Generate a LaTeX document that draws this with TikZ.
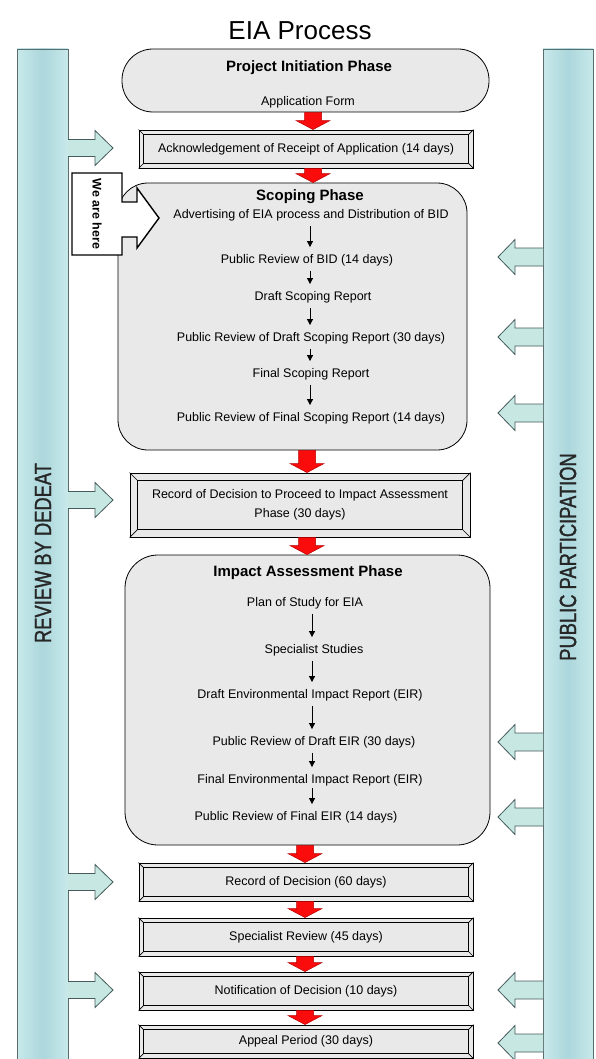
\documentclass[tikz,border=0pt]{standalone}
\usepackage{fontspec}
\setmainfont{Liberation Sans}
\newfontfamily\barfont{Liberation Sans}[FakeStretch=0.78, FakeBold=1.2]
\usetikzlibrary{calc,arrows.meta}
\definecolor{boxgray}{RGB}{233,233,233}
\definecolor{barA}{RGB}{172,215,220}
\definecolor{barB}{RGB}{200,233,234}
\definecolor{baredge}{RGB}{90,110,112}
\definecolor{cyanfill}{RGB}{198,231,226}
\definecolor{cyanedge}{RGB}{70,92,92}
\definecolor{redfill}{RGB}{250,12,12}
\definecolor{rededge}{RGB}{185,0,0}
\tikzset{
  txt/.style={font=\fontsize{12.5}{15}\selectfont, text height=9pt, text depth=2.5pt, inner sep=0pt},
  ttl/.style={font=\bfseries\fontsize{15}{18}\selectfont, inner sep=0pt},
  phase/.style={draw=black, line width=0.8pt, fill=boxgray},
  bevbox/.style={draw=black, line width=0.9pt, fill=boxgray, inner sep=0pt,
     font=\fontsize{12.5}{19}\selectfont, align=center},
  bevl/.style={draw=black, line width=0.7pt},
  barstyle/.style={draw=baredge, line width=0.8pt, left color=barB, right color=barB, middle color=barA},
  bartxt/.style={font=\barfont\fontsize{23.5}{26}\selectfont, text=black!85, inner sep=0pt},
  cyanarr/.style={fill=cyanfill, draw=cyanedge, line width=0.8pt, line join=miter},
  redarrow/.style={fill=redfill, draw=rededge, line width=0.5pt, line join=miter},
  blk/.style={draw=black, line width=1pt, -{Triangle[length=6pt,width=6pt]}, shorten <=5pt, shorten >=7pt},
  callout/.style={fill=white, draw=black, line width=1.4pt, line join=miter},
}
\newcommand\bevel[2]{%
  \draw[bevl] ($(#1.north west)+(#2pt,-#2pt)$) rectangle ($(#1.south east)+(-#2pt,#2pt)$);
  \draw[bevl] (#1.north west) -- ++(#2pt,-#2pt);
  \draw[bevl] (#1.north east) -- ++(-#2pt,-#2pt);
  \draw[bevl] (#1.south west) -- ++(#2pt,#2pt);
  \draw[bevl] (#1.south east) -- ++(-#2pt,#2pt);}
\newcommand\redarr[3]{%
  \path[redarrow] let \p1=(#1.south), \p2=(#2.north) in
    (#3pt-8.5pt,\y1) -- (#3pt+8.5pt,\y1) -- (#3pt+8.5pt,\y2+9pt) -- (#3pt+17pt,\y2+9pt)
    -- (#3pt,\y2) -- (#3pt-17pt,\y2+9pt) -- (#3pt-8.5pt,\y2+9pt) -- cycle;}
\newcommand\cyanR[1]{%
  \path[cyanarr] (68,-#1+8.5) -- (95,-#1+8.5) -- (95,-#1+17.5) -- (113,-#1)
    -- (95,-#1-17.5) -- (95,-#1-8.5) -- (68,-#1-8.5);}
\newcommand\cyanL[1]{%
  \path[cyanarr] (543,-#1+9) -- (515,-#1+9) -- (515,-#1+17.5) -- (498,-#1)
    -- (515,-#1-17.5) -- (515,-#1-9) -- (543,-#1-9);}
\begin{document}
\begin{tikzpicture}[x=1pt,y=1pt]
\useasboundingbox (0,0) rectangle (596,-1059);
\clip (0,0) rectangle (596,-1059);
\fill[white] (0,0) rectangle (596,-1059);

% title
\node[font=\fontsize{26}{30}\selectfont, inner sep=0pt] (title) at (300,-31) {EIA Process};

% side bars
\path[barstyle] (17,-49) rectangle (68,-1070);
\path[barstyle] (543,-49) rectangle (593,-1070);
\node[bartxt, rotate=90] (lbarT) at (43,-553) {REVIEW BY DEDEAT};
\node[bartxt, rotate=90] (rbarT) at (568,-557) {PUBLIC PARTICIPATION};

% cyan arrows
\cyanR{148}\cyanR{500}\cyanR{882}\cyanR{990}
\cyanL{257}\cyanL{337}\cyanL{413}\cyanL{742}\cyanL{817}\cyanL{990}\cyanL{1043}

% project initiation
\node[phase, rounded corners=31pt, minimum width=367pt, minimum height=63pt] (pi) at (305.5,-80.5) {};
\node[ttl] (piT) at (309,-68) {Project Initiation Phase};
\node[txt] (piA) at (308,-102) {Application Form};

% acknowledgement
\node[bevbox, minimum width=334pt, minimum height=38pt] (ack) at (306,-149) {Acknowledgement of Receipt of Application (14 days)};
\bevel{ack}{5}

% scoping phase
\node[phase, rounded corners=30pt, minimum width=349pt, minimum height=267pt] (sc) at (292.5,-316.5) {};
\node[ttl] (scT) at (310,-197) {Scoping Phase};
\node[txt] (s1) at (311,-215) {Advertising of EIA process and Distribution of BID};
\node[txt] (s2) at (307,-260) {Public Review of BID (14 days)};
\node[txt] (s3) at (313,-297) {Draft Scoping Report};
\node[txt] (s4) at (311,-338) {Public Review of Draft Scoping Report (30 days)};
\node[txt] (s5) at (311,-374) {Final Scoping Report};
\node[txt] (s6) at (311,-418) {Public Review of Final Scoping Report (14 days)};
\coordinate (sx) at (310,0);
\draw[blk] (s1.south -| sx) -- (s2.north -| sx);
\draw[blk] (s2.south -| sx) -- (s3.north -| sx);
\draw[blk] (s3.south -| sx) -- (s4.north -| sx);
\draw[blk] (s4.south -| sx) -- (s5.north -| sx);
\draw[blk] (s5.south -| sx) -- (s6.north -| sx);

% record of decision to proceed
\node[bevbox, minimum width=340pt, minimum height=64pt] (rp) at (300,-505) {Record of Decision to Proceed to Impact Assessment\\Phase (30 days)};
\bevel{rp}{8}

% impact assessment phase
\node[phase, rounded corners=33pt, minimum width=365pt, minimum height=290pt] (ia) at (307.5,-700) {};
\node[ttl] (iaT) at (308,-573) {Impact Assessment Phase};
\node[txt] (i1) at (305,-603) {Plan of Study for EIA};
\node[txt] (i2) at (314,-650) {Specialist Studies};
\node[txt] (i3) at (310,-695) {Draft Environmental Impact Report (EIR)};
\node[txt] (i4) at (314,-742) {Public Review of Draft EIR (30 days)};
\node[txt] (i5) at (310,-780) {Final Environmental Impact Report (EIR)};
\node[txt] (i6) at (296,-817) {Public Review of Final EIR (14 days)};
\coordinate (ix) at (312,0);
\draw[blk] (i1.south -| ix) -- (i2.north -| ix);
\draw[blk] (i2.south -| ix) -- (i3.north -| ix);
\draw[blk] (i3.south -| ix) -- (i4.north -| ix);
\draw[blk] (i4.south -| ix) -- (i5.north -| ix);
\draw[blk, shorten <=2pt] (i5.south -| ix) -- (i6.north -| ix);

% final boxes
\node[bevbox, minimum width=334pt, minimum height=38pt] (rd) at (306,-882) {Record of Decision (60 days)};
\bevel{rd}{5}
\node[bevbox, minimum width=334pt, minimum height=38pt] (sr) at (306,-937) {Specialist Review (45 days)};
\bevel{sr}{5}
\node[bevbox, minimum width=334pt, minimum height=38pt] (nd) at (306,-991) {Notification of Decision (10 days)};
\bevel{nd}{5}
\node[bevbox, minimum width=334pt, minimum height=33pt] (ap) at (306,-1041.5) {Appeal Period (30 days)};
\bevel{ap}{5}

% red arrows
\redarr{pi}{ack}{313}
\redarr{ack}{sc}{313}
\redarr{sc}{rp}{307}
\redarr{rp}{ia}{307}
\redarr{ia}{rd}{305}
\redarr{rd}{sr}{305}
\redarr{sr}{nd}{305}
\redarr{nd}{ap}{305}

% we are here callout
\path[callout] (72,-173) -- (122,-173) -- (122,-202) -- (137,-202) -- (137,-188) -- (159,-218)
  -- (137,-248) -- (137,-237) -- (122,-237) -- (122,-255) -- (72,-255) -- cycle;
\node[font=\bfseries\fontsize{12.5}{15}\selectfont, rotate=-90, inner sep=0pt] (here) at (97,-214) {We are here};
\end{tikzpicture}
\end{document}
